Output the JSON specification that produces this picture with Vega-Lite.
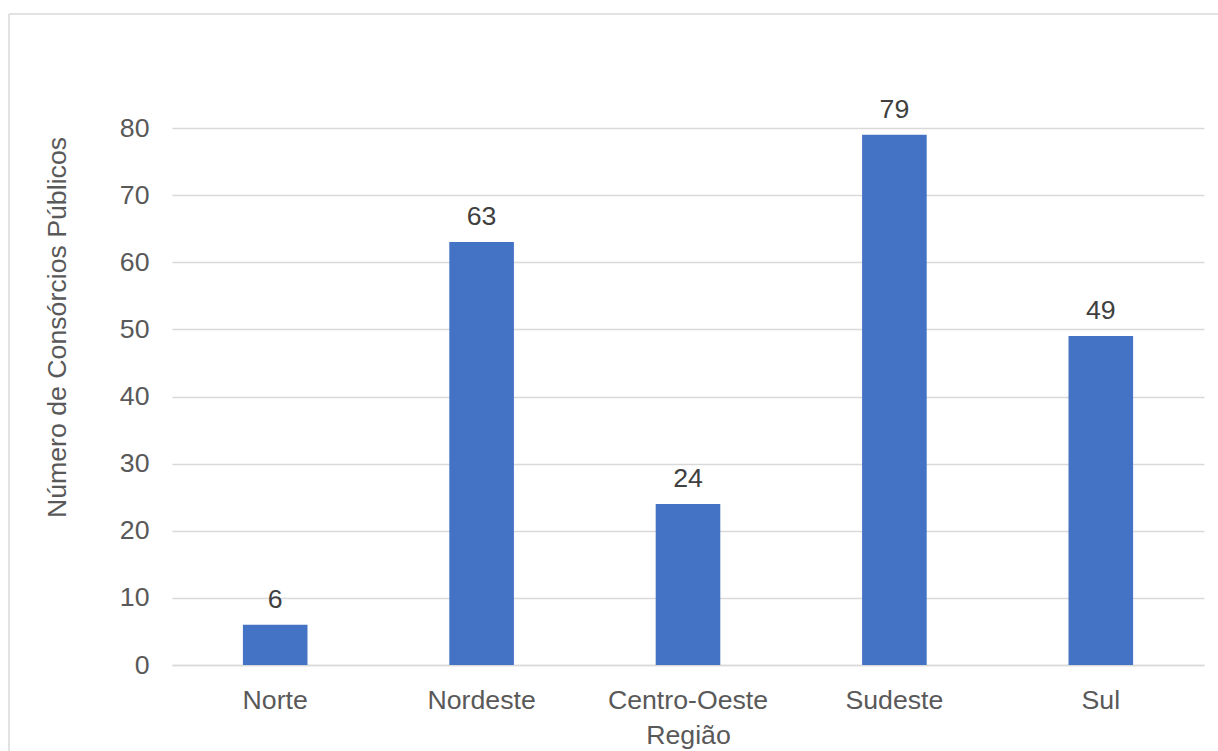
{
  "$schema": "https://vega.github.io/schema/vega-lite/v6.json",
  "width": 1209,
  "height": 737,
  "autosize": {"type": "none"},
  "padding": {"left": 9, "top": 14, "right": 0, "bottom": 0},
  "background": "#ffffff",
  "config": {
    "font": "Liberation Sans",
    "view": {"stroke": "#d9d9d9", "strokeWidth": 1.5, "strokeDash": [1209, 1946, 737, 0]}
  },
  "data": {
    "values": [
      {"regiao": "Norte", "consorcios": 6},
      {"regiao": "Nordeste", "consorcios": 63},
      {"regiao": "Centro-Oeste", "consorcios": 24},
      {"regiao": "Sudeste", "consorcios": 79},
      {"regiao": "Sul", "consorcios": 49}
    ]
  },
  "encoding": {
    "x": {
      "field": "regiao",
      "type": "nominal",
      "sort": null,
      "scale": {"range": [163, 1195], "paddingInner": 0.687, "paddingOuter": 0.3435},
      "axis": {
        "title": "Região",
        "labelAngle": 0,
        "labelFontSize": 26.7,
        "labelColor": "#595959",
        "labelBaseline": "alphabetic",
        "labelPadding": 43,
        "ticks": false,
        "tickSize": 0,
        "domain": true,
        "domainColor": "#d9d9d9",
        "domainWidth": 1.5,
        "offset": -86,
        "titleFontSize": 26.7,
        "titleFontWeight": "normal",
        "titleColor": "#595959",
        "titleBaseline": "alphabetic",
        "titleY": 78
      }
    },
    "y": {
      "field": "consorcios",
      "type": "quantitative",
      "scale": {"domain": [0, 80], "range": [651, 114], "nice": false},
      "axis": {
        "title": "Número de Consórcios Públicos",
        "values": [0, 10, 20, 30, 40, 50, 60, 70, 80],
        "labelFontSize": 26.7,
        "labelColor": "#595959",
        "labelPadding": 23,
        "ticks": false,
        "tickSize": 0,
        "domain": false,
        "grid": true,
        "gridColor": "#d9d9d9",
        "gridWidth": 1.5,
        "offset": -163,
        "titleFontSize": 26.7,
        "titleFontWeight": "normal",
        "titleColor": "#595959",
        "titleAngle": -90,
        "titleBaseline": "middle",
        "titleAlign": "center",
        "titleX": -115,
        "titleY": 313
      }
    }
  },
  "layer": [
    {"mark": {"type": "bar", "color": "#4472c4"}},
    {
      "mark": {
        "type": "text",
        "baseline": "alphabetic",
        "dy": -17,
        "fontSize": 26.7,
        "color": "#404040"
      },
      "encoding": {"text": {"field": "consorcios", "type": "quantitative"}}
    }
  ]
}
